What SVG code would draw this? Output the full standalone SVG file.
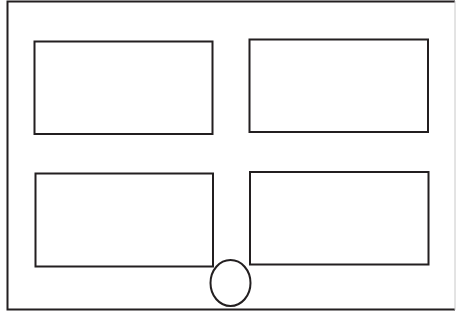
<svg xmlns="http://www.w3.org/2000/svg" width="456" height="321" viewBox="0 0 456 321">
<style>
.b{fill:none;stroke:#231f20;stroke-width:2}
</style>
<rect width="456" height="321" fill="#fff"/>
<g id="frame">
<path class="b" d="M455 1.5H7.5V309.5H455"/>
<line x1="455" y1="1" x2="455" y2="310" stroke="#c8c8c8" stroke-width="1"/>
</g>
<g id="box1"><rect class="b" x="34.5" y="41.5" width="178" height="92.5"/></g>
<g id="box2"><rect class="b" x="249.5" y="39.5" width="178.5" height="92.5"/></g>
<g id="box3"><rect class="b" x="35.5" y="173.5" width="177.5" height="93"/></g>
<g id="box4"><rect class="b" x="250" y="172" width="178.5" height="92.5"/></g>
<g id="circle"><ellipse class="b" cx="230.5" cy="283" rx="20" ry="23"/></g>
<g id="connectors"></g>
</svg>
